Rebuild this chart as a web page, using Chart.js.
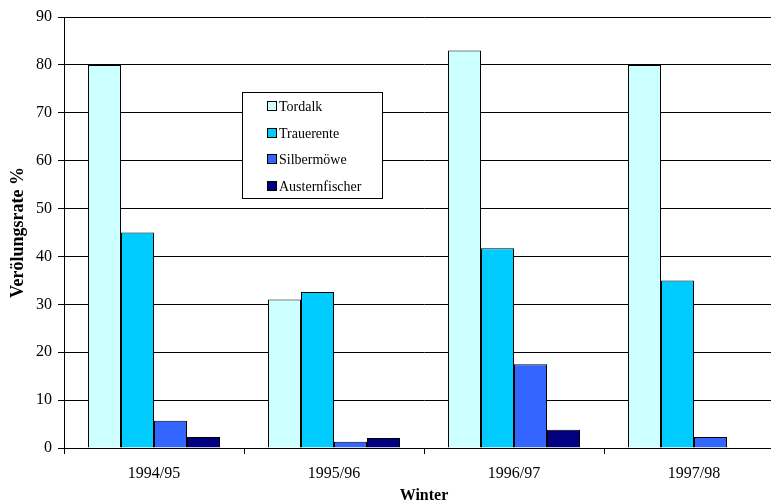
<!DOCTYPE html>
<html>
<head>
<meta charset="utf-8">
<script src="https://cdn.jsdelivr.net/npm/chart.js@4/dist/chart.umd.min.js"></script>
<style>
  html, body { margin: 0; padding: 0; background: #fff; }
  #wrap { width: 771px; height: 504px; overflow: hidden; position: relative; }
  canvas { display: block; }
</style>
</head>
<body>
<div id="wrap"><canvas id="c" width="790" height="504"></canvas></div>
<script>
const categories = ["1994/95", "1995/96", "1996/97", "1997/98"];
const seriesNames = ["Tordalk", "Trauerente", "Silbermöwe", "Austernfischer"];
const tordalk = [80, 31, 83, 80];
const trauerente = [45, 32.6, 41.7, 35];
const silbermoewe = [5.7, 1.3, 17.5, 2.3];
const austernfischer = [2.3, 2.1, 3.8, 0];
const yTitle = "Verölungsrate %";
const xTitle = "Winter";

const colors = ["#CCFFFF", "#00CCFF", "#3366FF", "#000080"];
const values = [tordalk, trauerente, silbermoewe, austernfischer];
const FONT = "'Liberation Serif', 'Times New Roman', serif";

const legendPlugin = {
  id: 'boxLegend',
  afterDatasetsDraw(chart) {
    const ctx = chart.ctx;
    const bx = 242, by = 92, bw = 140, bh = 106;
    ctx.save();
    ctx.fillStyle = '#fff';
    ctx.fillRect(bx, by, bw, bh);
    ctx.strokeStyle = '#000';
    ctx.lineWidth = 1;
    ctx.strokeRect(bx + 0.5, by + 0.5, bw, bh);
    ctx.font = "14px " + FONT;
    ctx.textBaseline = 'middle';
    chart.data.datasets.forEach((ds, i) => {
      const cy = Math.round(by + 14 + i * 26.7);
      ctx.fillStyle = ds.backgroundColor;
      ctx.fillRect(267, cy - 5, 10, 10);
      ctx.strokeStyle = '#000';
      ctx.strokeRect(267.5, cy - 4.5, 9, 9);
      ctx.fillStyle = '#000';
      ctx.fillText(ds.label, 279, cy + 1);
    });
    ctx.restore();
  }
};

new Chart(document.getElementById('c'), {
  type: 'bar',
  data: {
    labels: categories,
    datasets: seriesNames.map((name, i) => ({
      label: name,
      data: values[i],
      backgroundColor: colors[i],
      borderColor: '#000',
      borderWidth: 1,
      categoryPercentage: 0.7334,
      barPercentage: 1
    }))
  },
  options: {
    responsive: false,
    devicePixelRatio: 1,
    animation: false,
    layout: { padding: { top: 17, right: 6, left: 0, bottom: 0 } },
    plugins: { legend: { display: false }, tooltip: { enabled: false } },
    scales: {
      x: {
        grid: { display: true, drawOnChartArea: false, drawTicks: true, tickLength: 6, color: '#000', offset: true },
        border: { color: '#000', width: 1 },
        ticks: { color: '#000', font: { family: FONT, size: 16 }, padding: 10, maxRotation: 0 },
        title: { display: true, text: xTitle, color: '#000', font: { family: FONT, size: 16, weight: 'bold', lineHeight: 1 }, padding: { top: 0, bottom: 0 } },
        afterFit(s) { s.height = 56; }
      },
      y: {
        min: 0, max: 90,
        grid: { color: '#000', tickLength: 6, drawTicks: true },
        border: { color: '#000', width: 1 },
        ticks: { stepSize: 10, color: '#000', font: { family: FONT, size: 16 }, padding: 6 },
        title: { display: true, text: yTitle, color: '#000', font: { family: FONT, size: 18, weight: 'bold', lineHeight: 1 }, padding: { top: 9, bottom: 0 } },
        afterFit(s) { s.width = 64; }
      }
    }
  },
  plugins: [legendPlugin]
});
</script>
</body>
</html>
